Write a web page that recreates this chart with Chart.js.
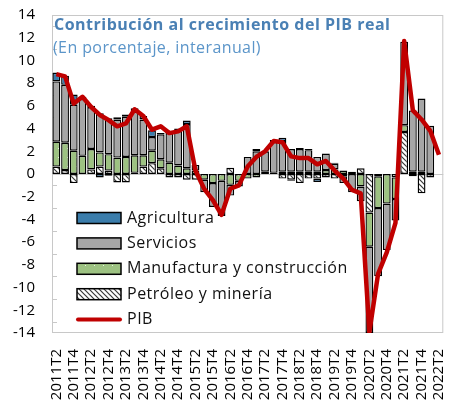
<!DOCTYPE html>
<html lang="es">
<head>
<meta charset="UTF-8">
<title>Contribución al crecimiento del PIB real</title>
<script src="https://cdn.jsdelivr.net/npm/chart.js@4"></script>
<style>
  html, body { margin: 0; padding: 0; background: #fff; overflow: hidden; }
  .wrap { width: 473px; height: 403px; position: relative; }
</style>
</head>
<body>
<div class="wrap"><canvas id="grafico"></canvas></div>
<script>
// trimestres 2011T2 .. 2022T2
const trimestres = [
  '2011T2','2011T3','2011T4','2012T1','2012T2','2012T3','2012T4','2013T1','2013T2','2013T3',
  '2013T4','2014T1','2014T2','2014T3','2014T4','2015T1','2015T2','2015T3','2015T4','2016T1',
  '2016T2','2016T3','2016T4','2017T1','2017T2','2017T3','2017T4','2018T1','2018T2','2018T3',
  '2018T4','2019T1','2019T2','2019T3','2019T4','2020T1','2020T2','2020T3','2020T4','2021T1',
  '2021T2','2021T3','2021T4','2022T1','2022T2'
];

// contribuciones (puntos porcentuales)
const petroleo = [0.65,0.35,-0.8,0,0.4,0.65,0.3,-0.75,-0.75,0.1,0.65,0.95,0.5,-0.3,-0.3,-0.5,-0.5,0,0,0,
  0.55,0,0,0,0,0,-0.4,-0.5,-0.8,-0.4,-0.4,-0.3,-0.4,-0.2,0,0.5,-3.4,-0.2,0,-0.3,3.7,-0.2,-1.7,-0.3,null];
const manufactura = [2.2,2.4,2.05,1.6,1.8,1.25,1.45,1.45,1.5,1.55,1.0,1.1,0.8,1.0,0.75,0.5,0.3,-0.5,-0.8,-0.6,
  -0.95,-0.6,-0.4,-0.3,0.2,0.1,0.2,0.2,0.2,0.2,0.2,0.35,0.4,0.3,0.2,-1.1,-3.0,-2.8,-2.6,-1.9,0.6,0.2,0.2,0,null];
const servicios = [5.3,5.1,4.05,5.0,3.7,3.45,3.15,3.35,3.55,3.85,3.15,1.2,2.2,2.6,3.05,3.9,0.5,-1.1,-2.1,-3.1,
  -0.95,-0.5,1.5,2.0,1.8,2.7,2.7,2.0,2.0,1.9,1.3,1.45,0.5,-0.6,-1.6,-1.3,-7.6,-6.0,-4.1,-1.9,7.35,5.4,6.45,4.25,null];
const agricultura = [0.75,0.8,0.9,0.2,0.1,-0.3,-0.15,0.2,0.2,0.3,0.3,0.6,0.1,0.1,0.2,0.3,0,0,0,0,
  0,0,0,0.2,0,0.2,0.3,-0.1,0.1,0.1,-0.3,0,0.1,0,0,0,0,0,0,0,0,0,0,0,null];
const pib = [8.8,8.6,6.2,6.8,5.9,5.2,4.75,4.2,4.45,5.7,5.1,3.9,4.2,3.6,3.75,4.2,0.3,-1.3,-2.3,-3.6,
  -1.3,-1.0,0.65,1.5,2.0,2.9,2.8,1.55,1.4,1.4,0.85,1.15,0.3,-0.4,-1.4,-1.7,-13.9,-8.8,-6.9,-4.3,11.7,5.6,4.8,3.8,1.7];

const FUENTE = '"Open Sans", "DejaVu Sans", sans-serif';

// rellenos con textura
function tile(w, h, draw) {
  const c = document.createElement('canvas');
  c.width = w; c.height = h;
  draw(c.getContext('2d'));
  return c.getContext('2d').createPattern(c, 'repeat');
}
const rayado = tile(5, 5, g => {
  g.fillStyle = '#fff'; g.fillRect(0, 0, 5, 5);
  g.strokeStyle = '#3a3a3a'; g.lineWidth = 1.2;
  g.beginPath();
  g.moveTo(-1, -1); g.lineTo(6, 6);
  g.moveTo(-1, 4); g.lineTo(1, 6);
  g.moveTo(4, -1); g.lineTo(6, 1);
  g.stroke();
});
const puntos = tile(9, 9, g => {
  g.fillStyle = '#9dc282'; g.fillRect(0, 0, 9, 9);
  g.fillStyle = '#eef5e6'; g.fillRect(4, 4, 1, 1);
});
const azul = '#3b7dab';
const gris = '#a6a6a6';
const rojo = '#c00000';

const sinCero = arr => arr.map(v => v === 0 ? null : v);

const leyenda = [
  { texto: 'Agricultura', fill: azul },
  { texto: 'Servicios', fill: gris },
  { texto: 'Manufactura y construcción', fill: puntos },
  { texto: 'Petróleo y minería', fill: rayado },
  { texto: 'PIB', linea: true }
];

const marco = {
  id: 'marco',
  beforeDatasetsDraw(chart) {
    const { ctx, chartArea: a, scales: { y } } = chart;
    ctx.save();
    ctx.strokeStyle = '#c8c8c8';
    ctx.lineWidth = 1;
    ctx.strokeRect(a.left + 0.5, a.top + 0.5, a.width - 1, a.height - 1);
    const y0 = Math.round(y.getPixelForValue(0)) + 0.5;
    ctx.beginPath();
    ctx.moveTo(a.left, y0); ctx.lineTo(a.right, y0);
    for (let v = -13; v <= 13; v += 2) {
      const py = Math.round(y.getPixelForValue(v)) + 0.5;
      ctx.moveTo(a.left, py); ctx.lineTo(a.left + 5, py);
    }
    ctx.stroke();
    ctx.restore();
  },
  afterDatasetsDraw(chart) {
    const { ctx, chartArea: a } = chart;
    ctx.save();
    ctx.textBaseline = 'middle';
    ctx.textAlign = 'left';
    ctx.fillStyle = '#4a80b4';
    ctx.font = 'bold 16px ' + FUENTE;
    ctx.letterSpacing = '0.5px';
    ctx.fillText('Contribución al crecimiento del PIB real', a.left + 2, a.top + 10);
    ctx.fillStyle = '#5b95c9';
    ctx.font = '16px ' + FUENTE;
    ctx.letterSpacing = '0.4px';
    ctx.fillText('(En porcentaje, interanual)', a.left + 1, a.top + 33);

    // leyenda
    ctx.font = '16px ' + FUENTE;
    ctx.letterSpacing = '0.5px';
    leyenda.forEach((it, i) => {
      const cy = 218 + i * 25.4;
      const x = 77;
      if (it.linea) {
        ctx.strokeStyle = rojo; ctx.lineWidth = 4; ctx.lineCap = 'round';
        ctx.beginPath(); ctx.moveTo(x + 1, cy); ctx.lineTo(x + 43, cy); ctx.stroke();
      } else {
        ctx.fillStyle = it.fill;
        ctx.fillRect(x, cy - 5.5, 44, 11);
        ctx.strokeStyle = '#000'; ctx.lineWidth = 1.5;
        ctx.strokeRect(x, cy - 5.5, 44, 11);
      }
      ctx.fillStyle = '#111';
      ctx.fillText(it.texto, 127, cy);
    });
    ctx.restore();
  }
};

const barra = (label, data, fill) => ({
  label, data: sinCero(data), backgroundColor: fill,
  borderColor: '#000', borderWidth: 1.4, borderSkipped: false,
  stack: 'contrib', order: 1,
  barPercentage: 0.9, categoryPercentage: 1
});

new Chart(document.getElementById('grafico'), {
  type: 'bar',
  data: {
    labels: trimestres,
    datasets: [
      barra('Petróleo y minería', petroleo, rayado),
      barra('Manufactura y construcción', manufactura, puntos),
      barra('Servicios', servicios, gris),
      barra('Agricultura', agricultura, azul),
      {
        type: 'line', label: 'PIB', data: pib, stack: 'pib', order: 0,
        borderColor: rojo, borderWidth: 4.5, pointRadius: 0, tension: 0,
        borderJoinStyle: 'round', fill: false
      }
    ]
  },
  options: {
    responsive: true,
    maintainAspectRatio: false,
    animation: false,
    layout: { autoPadding: false, padding: { top: 15, right: 5, left: 0, bottom: 0 } },
    plugins: { legend: { display: false }, tooltip: { enabled: false } },
    scales: {
      x: {
        stacked: true,
        grid: { display: false, drawTicks: false },
        border: { display: false },
        ticks: {
          autoSkip: false, minRotation: 90, maxRotation: 90, padding: 16,
          color: '#000', font: { family: FUENTE, size: 15 },
          callback: (v, i) => i % 2 === 0 ? trimestres[i] : ''
        },
        afterFit: s => { s.height = 70; }
      },
      y: {
        stacked: true, min: -14, max: 14,
        grid: { display: false, drawTicks: false },
        border: { display: false },
        ticks: { stepSize: 2, padding: 17, color: '#000', font: { family: FUENTE, size: 15 } },
        afterFit: s => { s.width = 52; s.paddingTop = 0; s.paddingBottom = 0; }
      }
    }
  },
  plugins: [marco]
});
</script>
</body>
</html>
